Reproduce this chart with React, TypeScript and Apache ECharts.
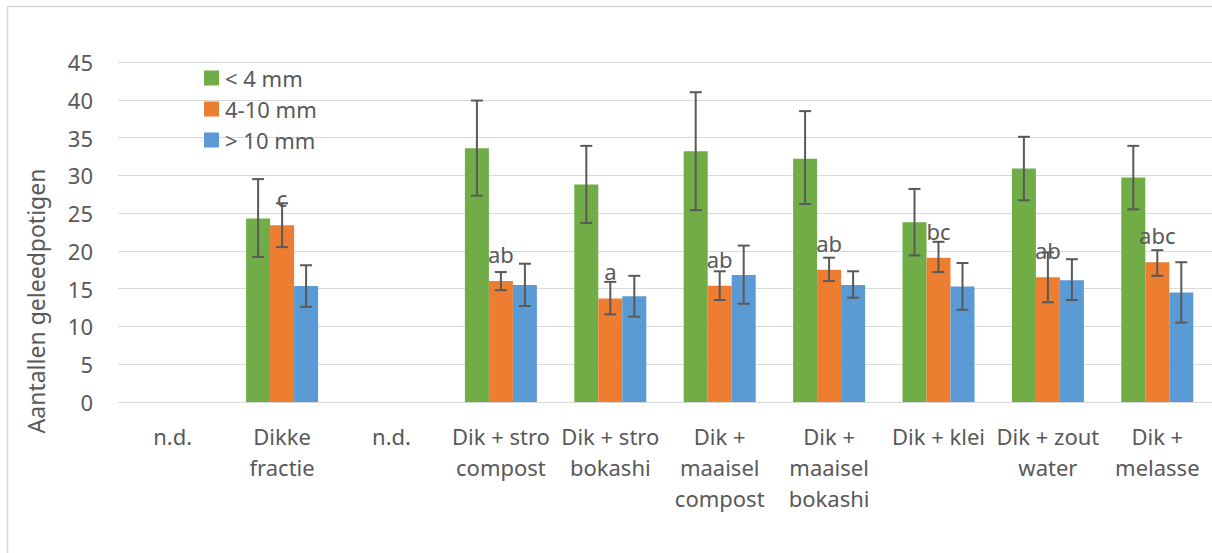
import React, { useEffect, useRef } from "react";
import * as echarts from "echarts";

const categories = [
  "n.d.",
  "Dikke\nfractie",
  "n.d.",
  "Dik + stro\ncompost",
  "Dik + stro\nbokashi",
  "Dik +\nmaaisel\ncompost",
  "Dik +\nmaaisel\nbokashi",
  "Dik + klei",
  "Dik + zout\nwater",
  "Dik +\nmelasse",
];

const seriesNames = ["< 4 mm", "4-10 mm", "> 10 mm"];

const small: (number | null)[] = [null, 24.3, null, 33.6, 28.8, 33.2, 32.2, 23.8, 30.9, 29.7];
const smallLow: (number | null)[] = [null, 19.2, null, 27.3, 23.7, 25.4, 26.2, 19.4, 26.7, 25.5];
const smallHigh: (number | null)[] = [null, 29.5, null, 39.9, 33.9, 41.0, 38.5, 28.2, 35.1, 33.9];

const medium: (number | null)[] = [null, 23.4, null, 16.0, 13.7, 15.4, 17.5, 19.1, 16.5, 18.5];
const mediumLow: (number | null)[] = [null, 20.5, null, 14.8, 11.6, 13.5, 16.0, 17.2, 13.2, 16.7];
const mediumHigh: (number | null)[] = [null, 26.3, null, 17.2, 15.9, 17.3, 19.1, 21.2, 19.8, 20.1];

const large: (number | null)[] = [null, 15.35, null, 15.5, 14.0, 16.8, 15.5, 15.3, 16.1, 14.5];
const largeLow: (number | null)[] = [null, 12.6, null, 12.7, 11.3, 13.0, 13.8, 12.2, 13.5, 10.5];
const largeHigh: (number | null)[] = [null, 18.1, null, 18.3, 16.7, 20.7, 17.3, 18.4, 18.9, 18.5];

const letters = ["", "c", "", "ab", "a", "ab", "ab", "bc", "ab", "abc"];

const yTicks = { min: 0, max: 45, interval: 5 };

const COLORS = ["#70AD47", "#ED7D31", "#5B9BD5"];
const TEXT = "#595959";
const FONT = "Noto Sans";
const FS = 22;
const BAR_W = 24;

function errData(lo: (number | null)[], hi: (number | null)[]) {
  const out: number[][] = [];
  lo.forEach((l, i) => {
    const h = hi[i];
    if (l != null && h != null) out.push([i, l, h]);
  });
  return out;
}

function errSeries(lo: (number | null)[], hi: (number | null)[], offset: number) {
  return {
    type: "custom",
    z: 10,
    silent: true,
    encode: { x: 0, y: [1, 2] },
    data: errData(lo, hi),
    renderItem: (_params: any, api: any) => {
      const idx = api.value(0);
      const pHi = api.coord([idx, api.value(2)]);
      const pLo = api.coord([idx, api.value(1)]);
      const x = pHi[0] + offset;
      const cap = 6;
      const style = { stroke: TEXT, lineWidth: 2 };
      return {
        type: "group",
        children: [
          { type: "line", shape: { x1: x, y1: pHi[1], x2: x, y2: pLo[1] }, style },
          { type: "line", shape: { x1: x - cap, y1: pHi[1], x2: x + cap, y2: pHi[1] }, style },
          { type: "line", shape: { x1: x - cap, y1: pLo[1], x2: x + cap, y2: pLo[1] }, style },
        ],
      };
    },
  };
}

const toBar = (arr: (number | null)[]) => arr.map((v) => (v == null ? "-" : v));

export default function App() {
  const ref = useRef<HTMLDivElement>(null);
  useEffect(() => {
    document.body.style.margin = "0";
    if (!ref.current) return;
    const chart = echarts.init(ref.current, undefined, { renderer: "svg" });
    chart.setOption({
      animation: false,
      backgroundColor: "#ffffff",
      textStyle: { fontFamily: FONT },
      legend: {
        orient: "vertical",
        left: 204,
        top: 67,
        padding: 0,
        itemWidth: 15,
        itemHeight: 15,
        itemGap: 9,
        icon: "rect",
        data: seriesNames,
        textStyle: { color: TEXT, fontSize: FS, fontFamily: FONT, padding: [0, 0, 0, 1] },
      },
      graphic: [
        {
          type: "line",
          shape: { x1: 7.5, y1: 6, x2: 7.5, y2: 553 },
          style: { stroke: "#D9D9D9", lineWidth: 1.5 },
        },
        {
          type: "line",
          shape: { x1: 7, y1: 6.5, x2: 1212, y2: 6.5 },
          style: { stroke: "#D9D9D9", lineWidth: 1.5 },
        },
        {
          type: "text",
          x: 36,
          y: 301,
          rotation: Math.PI / 2,
          style: {
            text: "Aantallen geleedpotigen",
            fill: TEXT,
            font: `23px "${FONT}"`,
            textAlign: "center",
            textVerticalAlign: "middle",
          },
        },
      ],
      grid: { left: 118, top: 62, width: 1096, height: 340, containLabel: false },
      xAxis: {
        type: "category",
        data: categories,
        axisLine: { show: true, lineStyle: { color: "#D9D9D9", width: 1 } },
        axisTick: { show: false },
        axisLabel: {
          interval: 0,
          color: TEXT,
          fontSize: FS,
          lineHeight: 31,
          margin: 18,
          fontFamily: FONT,
        },
      },
      yAxis: {
        type: "value",
        min: yTicks.min,
        max: yTicks.max,
        interval: yTicks.interval,
        axisLine: { show: false },
        axisTick: { show: false },
        splitLine: { lineStyle: { color: "#D9D9D9", width: 1 } },
        axisLabel: { color: TEXT, fontSize: FS, margin: 25, fontFamily: FONT },
      },
      series: [
        {
          name: seriesNames[0],
          type: "bar",
          data: toBar(small),
          barWidth: BAR_W,
          barGap: "0%",
          itemStyle: { color: COLORS[0] },
        },
        {
          name: seriesNames[1],
          type: "bar",
          data: toBar(medium),
          barWidth: BAR_W,
          barGap: "0%",
          itemStyle: { color: COLORS[1] },
          label: {
            show: true,
            position: "top",
            distance: 16,
            color: TEXT,
            fontSize: FS,
            fontFamily: FONT,
            formatter: (p: any) => letters[p.dataIndex] || "",
          },
        },
        {
          name: seriesNames[2],
          type: "bar",
          data: toBar(large),
          barWidth: BAR_W,
          barGap: "0%",
          itemStyle: { color: COLORS[2] },
        },
        errSeries(smallLow, smallHigh, -BAR_W),
        errSeries(mediumLow, mediumHigh, 0),
        errSeries(largeLow, largeHigh, BAR_W),
      ],
    });
    return () => chart.dispose();
  }, []);
  return <div ref={ref} style={{ width: 1212, height: 553 }} />;
}
